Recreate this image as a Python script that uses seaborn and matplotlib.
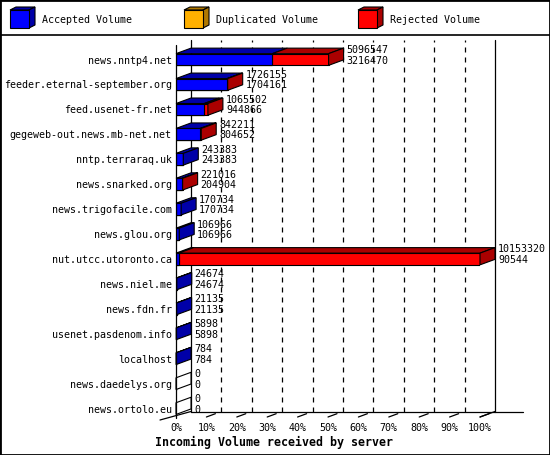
import matplotlib
matplotlib.use("Agg")
import matplotlib.pyplot as plt
from matplotlib.patches import Polygon, Rectangle
from matplotlib.lines import Line2D
import seaborn as sns

# Datos del gráfico (volumen entrante por servidor)
servers = ["news.nntp4.net", "feeder.eternal-september.org", "feed.usenet-fr.net",
           "gegeweb-out.news.mb-net.net", "nntp.terraraq.uk", "news.snarked.org",
           "news.trigofacile.com", "news.glou.org", "nut.utcc.utoronto.ca",
           "news.niel.me", "news.fdn.fr", "usenet.pasdenom.info", "localhost",
           "news.daedelys.org", "news.ortolo.eu"]
total_volume = [5096547, 1726155, 1065502, 842211, 243383, 221016, 170734, 106966,
                10153320, 24674, 21135, 5898, 784, 0, 0]
accepted_volume = [3216470, 1704161, 944866, 804652, 243383, 204904, 170734, 106966,
                   90544, 24674, 21135, 5898, 784, 0, 0]
duplicated_volume = [0, 0, 0, 0, 0, 0, 0, 0, 0, 0, 0, 0, 0, 0, 0]
tick_labels = ["0%", "10%", "20%", "30%", "40%", "50%", "60%", "70%", "80%", "90%", "100%"]
legend_labels = ["Accepted Volume", "Duplicated Volume", "Rejected Volume"]

# Colores (cara frontal, cara oscura)
BLUE, BLUE_D = "#0000ff", "#0000a8"
ORANGE, ORANGE_D = "#ffb000", "#b07800"
RED, RED_D = "#ff0000", "#aa0000"

sns.set_theme(style="white")
plt.rcParams['font.family'] = ['DejaVu Sans Mono', 'DejaVu Sans']
plt.rcParams['text.color'] = 'black'
plt.rcParams['xtick.color'] = 'black'
plt.rcParams['ytick.color'] = 'black'

W, H = 550, 455
fig = plt.figure(figsize=(W / 100, H / 100), dpi=100)

# ejes: 0% en x=176px, 100% en x=480px, de y=40px a y=417px
ax = fig.add_axes([176 / W, 1 - 417 / H, 304 / W, 377 / H])

vmax = max(total_volume)
tot_pct = [v / vmax * 100 for v in total_volume]
acc_pct = [v / vmax * 100 for v in accepted_volume]
dup_pct = [(a + d) / vmax * 100 for a, d in zip(accepted_volume, duplicated_volume)]

BAR_W = 0.47
sns.barplot(x=tot_pct, y=servers, orient="h", color=RED, saturation=1, width=BAR_W,
            edgecolor="black", linewidth=0.8, errorbar=None, ax=ax, zorder=2)
sns.barplot(x=dup_pct, y=servers, orient="h", color=ORANGE, saturation=1, width=BAR_W,
            edgecolor="black", linewidth=0.8, errorbar=None, ax=ax, zorder=2)
sns.barplot(x=acc_pct, y=servers, orient="h", color=BLUE, saturation=1, width=BAR_W,
            edgecolor="black", linewidth=0.8, errorbar=None, ax=ax, zorder=2)

row_px = (408.6 - 59.5) / 14
y_top = -(59.5 - 40) / row_px
y_bot = 14 + (417 - 408.6) / row_px
ax.set_xlim(0, 100)
ax.set_ylim(y_bot, y_top)

# profundidad 3D en unidades de datos
DX = 15 / 3.04
DY = -5.5 / row_px
h2 = BAR_W / 2

# pared del fondo
line_kw = dict(color="black", lw=0.9, clip_on=False, zorder=0)
ax.plot([DX, DX], [y_bot + DY, y_top], **line_kw)
ax.plot([100 + DX, 100 + DX], [y_bot + DY, y_top], **line_kw)
for k in range(1, 10):
    ax.plot([10 * k + DX] * 2, [y_bot + DY, y_top], color="black", lw=0.9,
            ls=(0, (4, 4)), clip_on=False, zorder=0)
# suelo
ax.plot([DX, (523 - 176) / 3.04], [y_bot + DY] * 2, **line_kw)
ax.plot([-(176 - 160) / 3.04, DX], [y_bot + 3 / row_px, y_bot + DY], **line_kw)
ax.plot([100, 100 + DX], [y_bot, y_bot + DY], **line_kw)
for k in range(1, 11):
    ax.plot([10 * k, 10 * k + DX * 0.6], [y_bot, y_bot + DY * 0.6], **line_kw)
# eje frontal
ax.plot([0, 0], [y_bot + 0.05, -(59.5 - 45) / row_px], color="black", lw=0.9,
        clip_on=False, zorder=4)

# caras superior y lateral
for i in range(len(servers)):
    segs = [(0, acc_pct[i], BLUE_D), (acc_pct[i], dup_pct[i], ORANGE_D),
            (dup_pct[i], tot_pct[i], RED_D)]
    top = i - h2
    side_col = "white"
    for x0, x1, col in segs:
        if x1 > x0:
            ax.add_patch(Polygon([(x0, top), (x1, top), (x1 + DX, top + DY), (x0 + DX, top + DY)],
                                 closed=True, facecolor=col, edgecolor="black", lw=0.8,
                                 clip_on=False, zorder=3))
            side_col = col
    xe = tot_pct[i]
    ax.add_patch(Polygon([(xe, i - h2), (xe, i + h2), (xe + DX, i + h2 + DY), (xe + DX, i - h2 + DY)],
                         closed=True, facecolor=side_col, edgecolor="black", lw=0.8,
                         clip_on=False, zorder=3))
    ax.annotate(str(total_volume[i]), xy=(xe + DX, i), xytext=(3, 9.5),
                textcoords="offset pixels", ha="left", va="center", fontsize=7.2,
                annotation_clip=False)
    ax.annotate(str(accepted_volume[i]), xy=(xe + DX, i), xytext=(3, -1),
                textcoords="offset pixels", ha="left", va="center", fontsize=7.2,
                annotation_clip=False)

for s in ax.spines.values():
    s.set_visible(False)
ax.set_xticks(range(0, 101, 10))
ax.set_xticklabels(tick_labels)
ax.tick_params(axis="both", length=0, labelsize=7.2, colors="black")
ax.tick_params(axis="x", pad=4)
ax.tick_params(axis="y", pad=3)
ax.set_xlabel("")
ax.set_ylabel("")

fig.text(155 / W, 1 - 442 / H, "Incoming Volume received by server", fontsize=8.4,
         fontweight="bold", ha="left", va="center")


# leyenda con cajas 3D
def caja(px, py, front, dark):
    w, h, dx, dy = 19, 18, 6, 3
    def f(x, y):
        return (x / W, 1 - y / H)
    for pts, col in [([(px, py), (px + w, py), (px + w + dx, py - dy), (px + dx, py - dy)], dark),
                     ([(px + w, py), (px + w, py + h), (px + w + dx, py + h - dy), (px + w + dx, py - dy)], dark),
                     ([(px, py), (px + w, py), (px + w, py + h), (px, py + h)], front)]:
        fig.add_artist(Polygon([f(*p) for p in pts], closed=True, facecolor=col,
                               edgecolor="black", lw=0.8, transform=fig.transFigure))


for lx, tx, lab, c1, c2 in [(10, 42, legend_labels[0], BLUE, BLUE_D),
                            (184, 216, legend_labels[1], ORANGE, ORANGE_D),
                            (358, 390, legend_labels[2], RED, RED_D)]:
    caja(lx, 10, c1, c2)
    fig.text(tx / W, 1 - 20 / H, lab, fontsize=7.2, ha="left", va="center")

fig.add_artist(Line2D([0, 1], [1 - 35 / H] * 2, color="black", lw=1.2, transform=fig.transFigure))
fig.add_artist(Rectangle((0, 0), 1, 1, fill=False, edgecolor="black", lw=2,
                         transform=fig.transFigure))

fig.savefig("out.png", dpi=100, facecolor="white")
